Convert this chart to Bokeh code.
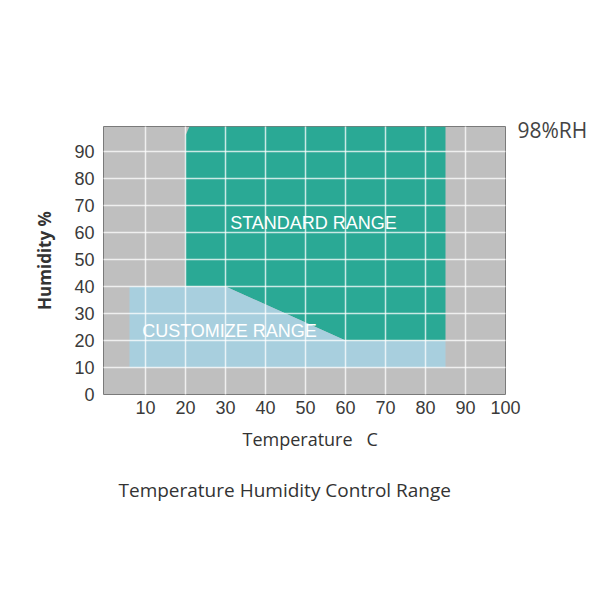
from bokeh.plotting import figure
from bokeh.models import Label, FixedTicker, Range1d, LinearAxis, Title
from bokeh.embed import file_html
from bokeh.resources import INLINE

# data
standard_x = [20, 20, 21, 85, 85, 60, 30]
standard_y = [40, 96, 99.3, 99.3, 20, 20, 40]
custom_x = [6, 6, 30, 60, 85, 85]
custom_y = [10, 40, 40, 20, 20, 10]
x_ticks = [10, 20, 30, 40, 50, 60, 70, 80, 90, 100]
y_ticks = [0, 10, 20, 30, 40, 50, 60, 70, 80, 90]
rh_tick = [98]
rh_label = "98%RH"

TEAL = "#2aa995"
LIGHT = "#a8cfde"
GRAY = "#bfbfbf"

p = figure(width=598, height=584, x_range=Range1d(-0.5, 100), y_range=Range1d(0, 99.3),
           output_backend="svg", toolbar_location=None,
           min_border_left=103, min_border_right=93, min_border_top=126, min_border_bottom=190)
p.background_fill_color = GRAY
p.border_fill_color = "white"
p.outline_line_color = "#7a7a7a"
p.outline_line_width = 1

p.patch(standard_x, standard_y, fill_color=TEAL, line_color=None)
p.patch(custom_x, custom_y, fill_color=LIGHT, line_color=None)

for ax, ticks, sto in ((p.xaxis, x_ticks, 6), (p.yaxis, y_ticks, 9)):
    ax.ticker = FixedTicker(ticks=ticks)
    ax.axis_line_color = None
    ax.major_tick_line_color = None
    ax.minor_tick_line_color = None
    ax.major_tick_out = 0
    ax.major_tick_in = 0
    ax.major_label_standoff = sto
    ax.major_label_text_font = "Liberation Sans"
    ax.major_label_text_font_size = "18px"
    ax.major_label_text_color = "#3a3a3a"

p.yaxis.axis_label = "Humidity %"
p.yaxis.axis_label_text_font = "Open Sans"
p.yaxis.axis_label_text_font_style = "bold"
p.yaxis.axis_label_text_font_size = "17px"
p.yaxis.axis_label_text_color = "#333333"
p.yaxis.axis_label_standoff = 15

rax = LinearAxis(ticker=FixedTicker(ticks=rh_tick), major_label_overrides={rh_tick[0]: rh_label})
rax.axis_line_color = None
rax.major_tick_line_color = None
rax.minor_tick_line_color = None
rax.major_tick_out = 0
rax.major_tick_in = 0
rax.major_label_standoff = 12
rax.major_label_text_font = "Open Sans"
rax.major_label_text_font_size = "21px"
rax.major_label_text_color = "#444444"
p.add_layout(rax, "right")

t1 = Title(text="Temperature\u00a0\u00a0\u00a0C", align="left", offset=139, standoff=16,
           text_font="Open Sans", text_font_size="18px", text_font_style="normal", text_color="#333333")
p.add_layout(t1, "below")
t2 = Title(text="Temperature Humidity Control Range", align="left", offset=15, standoff=32,
           text_font="Open Sans", text_font_size="19px", text_font_style="normal", text_color="#333333")
p.add_layout(t2, "below")

p.xgrid.ticker = FixedTicker(ticks=x_ticks[:-1])
p.ygrid.ticker = FixedTicker(ticks=y_ticks[1:])
for g in (p.xgrid, p.ygrid):
    g.grid_line_color = "white"
    g.grid_line_alpha = 0.75
    g.grid_line_width = 1.5
    g.level = "guide"

p.add_layout(Label(x=52, y=63.7, text="STANDARD RANGE", text_align="center", text_baseline="middle",
                   text_color="white", text_font="Liberation Sans", text_font_size="18px"))
p.add_layout(Label(x=31, y=23.6, text="CUSTOMIZE RANGE", text_align="center", text_baseline="middle",
                   text_color="white", text_font="Liberation Sans", text_font_size="18px"))

open("out.html", "w").write(file_html(p, INLINE))
